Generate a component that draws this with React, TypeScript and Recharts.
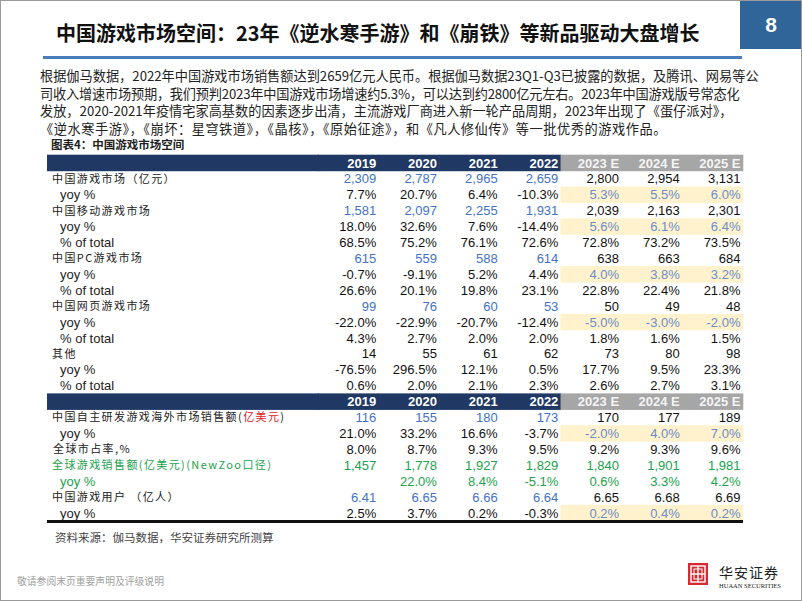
import { Scatter, ScatterChart, XAxis, YAxis } from "recharts";

const years = ["2019", "2020", "2021", "2022", "2023 E", "2024 E", "2025 E"];
const forecastFrom = 4;

const gameMarket = [2309, 2787, 2965, 2659, 2800, 2954, 3131];
const gameMarketYoy = [7.7, 20.7, 6.4, -10.3, 5.3, 5.5, 6.0];
const mobileMarket = [1581, 2097, 2255, 1931, 2039, 2163, 2301];
const mobileYoy = [18.0, 32.6, 7.6, -14.4, 5.6, 6.1, 6.4];
const mobileShare = [68.5, 75.2, 76.1, 72.6, 72.8, 73.2, 73.5];
const pcMarket = [615, 559, 588, 614, 638, 663, 684];
const pcYoy = [-0.7, -9.1, 5.2, 4.4, 4.0, 3.8, 3.2];
const pcShare = [26.6, 20.1, 19.8, 23.1, 22.8, 22.4, 21.8];
const webMarket = [99, 76, 60, 53, 50, 49, 48];
const webYoy = [-22.0, -22.9, -20.7, -12.4, -5.0, -3.0, -2.0];
const webShare = [4.3, 2.7, 2.0, 2.0, 1.8, 1.6, 1.5];
const others = [14, 55, 61, 62, 73, 80, 98];
const othersYoy = [-76.5, 296.5, 12.1, 0.5, 17.7, 9.5, 23.3];
const othersShare = [0.6, 2.0, 2.1, 2.3, 2.6, 2.7, 3.1];
const overseas = [116, 155, 180, 173, 170, 177, 189];
const overseasYoy = [21.0, 33.2, 16.6, -3.7, -2.0, 4.0, 7.0];
const overseasShare = [8.0, 8.7, 9.3, 9.5, 9.2, 9.3, 9.6];
const globalSales = [1457, 1778, 1927, 1829, 1840, 1901, 1981];
const globalYoy = [null, 22.0, 8.4, -5.1, 0.6, 3.3, 4.2];
const users = [6.41, 6.65, 6.66, 6.64, 6.65, 6.68, 6.69];
const usersYoy = [2.5, 3.7, 0.2, -0.3, 0.2, 0.4, 0.2];

const paragraph = [
    "根据伽马数据，2022年中国游戏市场销售额达到2659亿元人民币。根据伽马数据23Q1-Q3已披露的数据，及腾讯、网易等公",
    "司收入增速市场预期，我们预判2023年中国游戏市场增速约5.3%，可以达到约2800亿元左右。2023年中国游戏版号常态化",
    "发放，2020-2021年疫情宅家高基数的因素逐步出清，主流游戏厂商进入新一轮产品周期，2023年出现了《蛋仔派对》，",
    "《逆水寒手游》，《崩坏：星穹铁道》，《晶核》，《原始征途》，和《凡人修仙传》等一批优秀的游戏作品。",
];

const NAVY = "#1F3864";
const GRAY = "#A6A6A6";
const YELLOW = "#FFF2CC";
const BLUE = "#4472C4";
const LIGHT_BLUE = "#6A8DCB";
const GREEN = "#21A24C";
const RED = "#E02020";
const BLACK = "#111";

const TABLE_LEFT = 47;
const TABLE_RIGHT = 743;
const TABLE_TOP = 155;
const TABLE_BOTTOM = 521;
const LABEL_W = 271;
const CHART_W = 802;
const CHART_H = 602;

type Fmt = "int" | "pct" | "dec2";

type Row = {
    key: string;
    header?: boolean;
    label?: { text: string; color?: string }[];
    latin?: boolean;
    indent?: number;
    values?: (number | null)[];
    fmt?: Fmt;
    histColor?: string;
    foreColor?: string;
    highlight?: boolean;
};

const cn = (text: string, color?: string) => [{ text, color }];

const rows: Row[] = [
    { key: "h1", header: true },
    { key: "r1", label: cn("中国游戏市场（亿元）"), values: gameMarket, fmt: "int", histColor: BLUE, foreColor: BLACK },
    { key: "r2", label: cn("yoy %"), latin: true, values: gameMarketYoy, fmt: "pct", histColor: BLACK, foreColor: LIGHT_BLUE, highlight: true },
    { key: "r3", label: cn("中国移动游戏市场"), values: mobileMarket, fmt: "int", histColor: BLUE, foreColor: BLACK },
    { key: "r4", label: cn("yoy %"), latin: true, values: mobileYoy, fmt: "pct", histColor: BLACK, foreColor: LIGHT_BLUE, highlight: true },
    { key: "r5", label: cn("% of total"), latin: true, values: mobileShare, fmt: "pct", histColor: BLACK, foreColor: BLACK },
    { key: "r6", label: cn("中国PC游戏市场"), values: pcMarket, fmt: "int", histColor: BLUE, foreColor: BLACK },
    { key: "r7", label: cn("yoy %"), latin: true, values: pcYoy, fmt: "pct", histColor: BLACK, foreColor: LIGHT_BLUE, highlight: true },
    { key: "r8", label: cn("% of total"), latin: true, values: pcShare, fmt: "pct", histColor: BLACK, foreColor: BLACK },
    { key: "r9", label: cn("中国网页游戏市场"), values: webMarket, fmt: "int", histColor: BLUE, foreColor: BLACK },
    { key: "r10", label: cn("yoy %"), latin: true, values: webYoy, fmt: "pct", histColor: BLACK, foreColor: LIGHT_BLUE, highlight: true },
    { key: "r11", label: cn("% of total"), latin: true, values: webShare, fmt: "pct", histColor: BLACK, foreColor: BLACK },
    { key: "r12", label: cn("其他"), values: others, fmt: "int", histColor: BLACK, foreColor: BLACK },
    { key: "r13", label: cn("yoy %"), latin: true, values: othersYoy, fmt: "pct", histColor: BLACK, foreColor: BLACK },
    { key: "r14", label: cn("% of total"), latin: true, values: othersShare, fmt: "pct", histColor: BLACK, foreColor: BLACK },
    { key: "h2", header: true },
    {
        key: "r15",
        label: [{ text: "中国自主研发游戏海外市场销售额(" }, { text: "亿美元", color: RED }, { text: ")" }],
        values: overseas, fmt: "int", histColor: BLUE, foreColor: BLACK,
    },
    { key: "r16", label: cn("yoy %"), latin: true, values: overseasYoy, fmt: "pct", histColor: BLACK, foreColor: LIGHT_BLUE, highlight: true },
    { key: "r17", label: cn("全球市占率,%"), indent: 6, values: overseasShare, fmt: "pct", histColor: BLACK, foreColor: BLACK },
    { key: "r18", label: cn("全球游戏销售额(亿美元)(NewZoo口径)", GREEN), values: globalSales, fmt: "int", histColor: GREEN, foreColor: GREEN },
    { key: "r19", label: cn("yoy %", GREEN), latin: true, values: globalYoy, fmt: "pct", histColor: GREEN, foreColor: GREEN },
    { key: "r20", label: cn("中国游戏用户 （亿人）"), values: users, fmt: "dec2", histColor: BLUE, foreColor: BLACK },
    { key: "r21", label: cn("yoy %"), latin: true, values: usersYoy, fmt: "pct", histColor: BLACK, foreColor: LIGHT_BLUE, highlight: true },
];

const ROW_H = (TABLE_BOTTOM - TABLE_TOP) / rows.length;
const COL_W = (TABLE_RIGHT - TABLE_LEFT - LABEL_W) / years.length;

const format = (v: number | null, fmt?: Fmt) => {
    if (v === null || v === undefined) return "";
    if (fmt === "pct") return v.toFixed(1) + "%";
    if (fmt === "dec2") return v.toFixed(2);
    return v.toLocaleString("en-US");
};

type CellDatum = { row: string; col: string; text: string; color: string; bg?: string; bold?: boolean };

const cells: CellDatum[] = rows.flatMap((row) =>
    years.map((year, i) => {
        const forecast = i >= forecastFrom;
        if (row.header) {
            return { row: row.key, col: year, text: year, color: forecast ? "#F4F4F4" : "#fff", bg: forecast ? GRAY : NAVY, bold: true };
        }
        return {
            row: row.key,
            col: year,
            text: format(row.values![i], row.fmt),
            color: (forecast ? row.foreColor : row.histColor) || BLACK,
            bg: row.highlight && forecast ? YELLOW : undefined,
        };
    })
);

const TableCell = (props: any) => {
    const { cx, cy, payload } = props;
    const d = payload as CellDatum;
    return (
        <g>
            {d.bg && <rect x={cx - COL_W / 2 - 0.3} y={cy - ROW_H / 2 - 0.3} width={COL_W + 0.6} height={ROW_H + 0.6} fill={d.bg} />}
            <text
                x={cx + COL_W / 2 - 2.5}
                y={cy}
                dy="0.35em"
                textAnchor="end"
                fontFamily="'Liberation Sans', Arial, sans-serif"
                fontSize={13}
                fontWeight={d.bold ? 700 : 400}
                fill={d.color}
            >
                {d.text}
            </text>
        </g>
    );
};

const RowLabel = (props: any) => {
    const { y, payload } = props;
    const row = rows.find((r) => r.key === payload.value);
    if (!row) return null;
    if (row.header) {
        return <rect x={TABLE_LEFT} y={y - ROW_H / 2 - 0.3} width={LABEL_W + 1} height={ROW_H + 0.6} fill={NAVY} />;
    }
    const indent = row.indent ?? (row.latin ? 13 : 5);
    return (
        <text
            x={TABLE_LEFT + indent}
            y={y}
            dy="0.35em"
            textAnchor="start"
            fontFamily={row.latin ? "'Liberation Sans', Arial, sans-serif" : "'Noto Sans CJK SC', sans-serif"}
            fontSize={row.latin ? 13 : 11}
            letterSpacing={row.latin ? 0 : 1.4}
            fill="#222"
        >
            {row.label!.map((part, i) => (
                <tspan key={i} fill={part.color || "#222"}>{part.text}</tspan>
            ))}
        </text>
    );
};

const Logo = () => (
    <svg width={20} height={22} style={{ position: "absolute", left: 688, top: 563 }}>
        <rect x={0} y={0} width={20} height={22} fill="#D42A30" />
        <rect x={3} y={3} width={14} height={16} fill="none" stroke="#fff" strokeWidth={1.4} />
        <line x1={10} y1={3} x2={10} y2={19} stroke="#fff" strokeWidth={1.4} />
        <line x1={3} y1={11} x2={17} y2={11} stroke="#fff" strokeWidth={1.4} />
        <rect x={6} y={6} width={8} height={10} fill="none" stroke="#fff" strokeWidth={1} />
    </svg>
);

// per-line letter spacing so each paragraph line ends where the original does
const lineSpacing = [0, -0.2, 0, 0.55];

export default function App() {
    const cnFont = "'Noto Sans CJK SC', sans-serif";
    return (
        <div style={{ position: "absolute", left: 0, top: 0, width: CHART_W, height: CHART_H, background: "#fff", overflow: "hidden" }}>
            <div style={{ position: "absolute", left: 0, top: 0 }}>
                <ScatterChart
                    width={CHART_W}
                    height={CHART_H}
                    margin={{ top: TABLE_TOP, right: CHART_W - TABLE_RIGHT, bottom: CHART_H - TABLE_BOTTOM, left: TABLE_LEFT }}
                >
                    <XAxis type="category" dataKey="col" hide allowDuplicatedCategory={false} />
                    <YAxis
                        type="category"
                        dataKey="row"
                        width={LABEL_W}
                        reversed
                        interval={0}
                        axisLine={false}
                        tickLine={false}
                        allowDuplicatedCategory={false}
                        tick={(p: any) => <RowLabel {...p} />}
                    />
                    <Scatter data={cells} isAnimationActive={false} shape={(p: any) => <TableCell {...p} />} />
                </ScatterChart>
            </div>

            {/* header */}
            <div style={{ position: "absolute", left: 740, top: 0, width: 62, height: 49, background: "#2F6599", color: "#fff", fontFamily: "'Liberation Sans', Arial, sans-serif", fontWeight: 700, fontSize: 21, lineHeight: "49px", textAlign: "center" }}>8</div>
            <div style={{ position: "absolute", left: 56, top: 19, fontFamily: cnFont, fontWeight: 700, fontSize: 20, lineHeight: "28px", color: "#111", whiteSpace: "nowrap" }}>
                中国游戏市场空间：23年《逆水寒手游》和《崩铁》等新品驱动大盘增长
            </div>
            <div style={{ position: "absolute", left: 43, top: 56, width: 699, height: 3, background: "#4A7EBB" }} />

            {/* text */}
            {paragraph.map((line, i) => (
                <div
                    key={i}
                    style={{
                        position: "absolute", left: 40, top: 68 + i * 17.5, width: 717, height: 16,
                        fontFamily: cnFont, fontSize: 13.2, lineHeight: "16px", color: "#222", whiteSpace: "nowrap",
                        letterSpacing: lineSpacing[i],
                    }}
                >
                    {line}
                </div>
            ))}
            <div style={{ position: "absolute", left: 51, top: 138, fontFamily: cnFont, fontWeight: 700, fontSize: 11.5, lineHeight: "13px", color: "#222" }}>
                图表4：中国游戏市场空间
            </div>

            <div style={{ position: "absolute", left: TABLE_LEFT, top: TABLE_BOTTOM - 1, width: TABLE_RIGHT - TABLE_LEFT, height: 3, background: "#111" }} />
            <div style={{ position: "absolute", left: 55, top: 529, fontFamily: cnFont, fontSize: 11.5, lineHeight: "16px", color: "#444" }}>
                资料来源：伽马数据，华安证券研究所测算
            </div>

            {/* footer */}
            <div style={{ position: "absolute", left: 17, top: 574, fontFamily: cnFont, fontSize: 9.8, lineHeight: "14px", color: "#A0A0A0" }}>
                敬请参阅末页重要声明及评级说明
            </div>
            <Logo />
            <div style={{ position: "absolute", left: 719, top: 563, fontFamily: cnFont, fontSize: 14, lineHeight: "18px", color: "#222", letterSpacing: 1 }}>华安证券</div>
            <div style={{ position: "absolute", left: 719, top: 582, fontFamily: "'Liberation Serif', serif", fontSize: 6.5, lineHeight: "8px", color: "#222", whiteSpace: "nowrap" }}>HUAAN SECURITIES</div>

            <div style={{ position: "absolute", left: 0, top: 0, width: CHART_W, height: CHART_H - 1, boxSizing: "border-box", border: "1px solid #9A9A9A", pointerEvents: "none" }} />
        </div>
    );
}
